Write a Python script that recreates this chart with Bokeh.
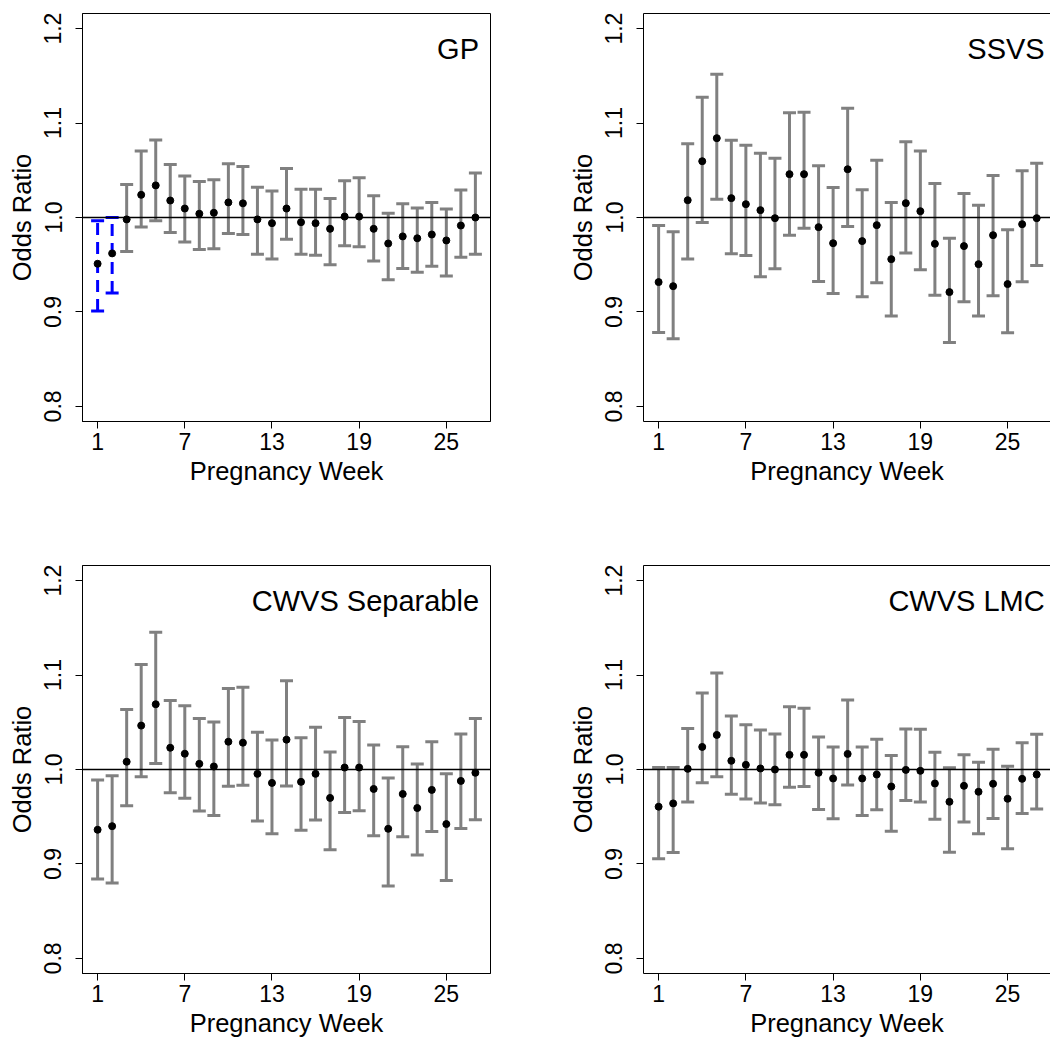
from bokeh.plotting import figure
from bokeh.layouts import column, row
from bokeh.models import (Whisker, TeeHead, ColumnDataSource, Span, FixedTicker,
                          LinearAxis, Range1d, PrintfTickFormatter, Label)
from bokeh.embed import file_html
from bokeh.resources import INLINE

weeks = list(range(1, 28))
x_ticks = [1, 7, 13, 19, 25]
y_ticks = [0.8, 0.9, 1.0, 1.1, 1.2]
panel_titles = ["GP", "SSVS", "CWVS Separable", "CWVS LMC"]

gp_est = [0.951, 0.962, 0.998, 1.024, 1.034, 1.018, 1.0095, 1.004, 1.005, 1.016, 1.015, 0.998, 0.994, 1.0095,
          0.995, 0.994, 0.988, 1.001, 1.001, 0.988, 0.9725, 0.980, 0.978, 0.982, 0.9757, 0.9915, 1.000]
gp_lower = [0.901, 0.920, 0.964, 0.990, 0.9965, 0.984, 0.974, 0.966, 0.967, 0.983, 0.982, 0.961, 0.956, 0.977,
            0.961, 0.960, 0.950, 0.970, 0.969, 0.954, 0.934, 0.946, 0.942, 0.9485, 0.938, 0.958, 0.961]
gp_upper = [0.9965, 1.000, 1.035, 1.0705, 1.082, 1.056, 1.044, 1.038, 1.040, 1.057, 1.054, 1.032, 1.028, 1.052,
            1.030, 1.030, 1.020, 1.039, 1.042, 1.023, 1.0046, 1.0145, 1.010, 1.016, 1.009, 1.029, 1.047]
gp_flag = [1, 1, 0, 0, 0, 0, 0, 0, 0, 0, 0, 0, 0, 0, 0, 0, 0, 0, 0, 0, 0, 0, 0, 0, 0, 0, 0]

ssvs_est = [0.9316, 0.9273, 1.0183, 1.0596, 1.084, 1.0205, 1.0141, 1.0078, 0.9993, 1.0459, 1.0459, 0.9898, 0.9728, 1.0511,
            0.975, 0.9919, 0.9559, 1.0152, 1.0067, 0.9721, 0.921, 0.9697, 0.9506, 0.9813, 0.9295, 0.9929, 0.9993]
ssvs_lower = [0.8783, 0.8716, 0.956, 0.9947, 1.0194, 0.9616, 0.9598, 0.9372, 0.9457, 0.9813, 0.9887, 0.9323, 0.9196, 0.9905,
              0.916, 0.9309, 0.8956, 0.9623, 0.9446, 0.9178, 0.8677, 0.9108, 0.8956, 0.9171, 0.878, 0.9319, 0.9492]
ssvs_upper = [0.9915, 0.9848, 1.078, 1.1273, 1.1517, 1.0818, 1.0765, 1.068, 1.0628, 1.1108, 1.1115, 1.0547, 1.0317, 1.1157,
              1.0293, 1.0607, 1.0159, 1.0801, 1.0705, 1.036, 0.9781, 1.0254, 1.013, 1.0444, 0.987, 1.0494, 1.0575]
ssvs_flag = [0] * 27

sep_est = [0.9362, 0.940, 1.0082, 1.0465, 1.0691, 1.023, 1.0167, 1.006, 1.0032, 1.0294, 1.0284, 0.9954, 0.9858, 1.0316,
           0.9869, 0.9954, 0.9699, 1.0021, 1.0021, 0.9794, 0.9372, 0.9741, 0.9592, 0.9784, 0.9422, 0.9879, 0.9965]
sep_lower = [0.884, 0.8798, 0.9617, 0.9922, 1.0064, 0.9755, 0.9695, 0.956, 0.9514, 0.9823, 0.9833, 0.9454, 0.9319, 0.9826,
             0.9358, 0.9465, 0.9149, 0.9546, 0.9564, 0.9298, 0.8766, 0.9287, 0.9096, 0.9344, 0.8826, 0.9376, 0.9468]
sep_upper = [0.989, 0.9933, 1.0635, 1.1113, 1.1454, 1.073, 1.0674, 1.0539, 1.0504, 1.0858, 1.0872, 1.0394, 1.0312, 1.094,
             1.0337, 1.0447, 1.0184, 1.055, 1.0507, 1.0259, 0.9911, 1.0241, 1.0057, 1.0294, 0.9954, 1.0376, 1.0539]
sep_flag = [0] * 27

lmc_est = [0.9606, 0.9641, 1.0007, 1.0239, 1.0366, 1.0092, 1.0049, 1.0011, 1.000, 1.0155, 1.0155, 0.9965, 0.9905, 1.0165,
           0.9905, 0.9947, 0.982, 0.9996, 0.9986, 0.9852, 0.9658, 0.9827, 0.9764, 0.9849, 0.969, 0.9901, 0.9947]
lmc_lower = [0.9056, 0.912, 0.9655, 0.9859, 0.9923, 0.9739, 0.9687, 0.9644, 0.9627, 0.9813, 0.982, 0.9577, 0.9479, 0.9835,
             0.9514, 0.9574, 0.9345, 0.9673, 0.9655, 0.9472, 0.9123, 0.9444, 0.932, 0.9482, 0.9162, 0.9535, 0.9581]
lmc_upper = [1.0021, 1.0021, 1.0433, 1.081, 1.1021, 1.0567, 1.0475, 1.0419, 1.0377, 1.0665, 1.0648, 1.0345, 1.0239, 1.0736,
             1.0239, 1.032, 1.0148, 1.043, 1.0426, 1.0183, 1.0018, 1.0155, 1.0077, 1.0215, 1.0035, 1.0282, 1.0373]
lmc_flag = [0] * 27

FONT = "Liberation Sans"
GRAY = "#808080"
BLUE = "#0000FF"


def make_panel(title, est, lo, hi, flag, right_side, top_row):
    fw = 407 if right_side else 408
    x_end = 27.95 if right_side else 28.04
    w = 489 if right_side else 561
    h = 552 if top_row else 488
    p = figure(width=w, height=h, x_range=Range1d(-0.04, x_end), y_range=Range1d(0.784, 1.216),
               output_backend="svg", toolbar_location=None,
               min_border_left=82, min_border_right=(0 if right_side else w - 82 - fw),
               min_border_top=13, min_border_bottom=(h - 13 - 408))
    p.xgrid.visible = False
    p.ygrid.visible = False
    p.background_fill_color = "white"
    p.border_fill_color = "white"

    xax = p.below[0]
    yax = p.left[0]

    sel_g = [i for i in range(len(weeks)) if flag[i] == 0]
    sel_b = [i for i in range(len(weeks)) if flag[i] == 1]
    for sel, col, dash in ((sel_g, GRAY, "solid"), (sel_b, BLUE, "12 7")):
        if not sel:
            continue
        src = ColumnDataSource(dict(x=[weeks[i] for i in sel], y=[est[i] for i in sel],
                                    lower=[lo[i] for i in sel], upper=[hi[i] for i in sel]))
        wk = Whisker(source=src, base="x", upper="upper", lower="lower", dimension="height",
                     line_color=col, line_width=3, line_dash=dash, level="underlay",
                     upper_head=TeeHead(size=13, line_color=col, line_width=3),
                     lower_head=TeeHead(size=13, line_color=col, line_width=3))
        p.add_layout(wk)
    p.add_layout(Span(location=1.0, dimension="width", line_color="black", line_width=1.5, level="underlay"))
    src_all = ColumnDataSource(dict(x=weeks, y=est))
    p.scatter("x", "y", source=src_all, size=7, color="black")

    p.add_layout(Label(x=(27.55 if right_side else 27.25), y=1.178, text=title, text_align="right",
                       text_baseline="alphabetic", text_font=FONT, text_font_size="29px", text_color="black"))

    for ax in (xax, yax):
        ax.axis_line_color = "black"
        ax.axis_line_width = 1
        ax.major_tick_line_color = "black"
        ax.major_tick_line_width = 1
        ax.major_tick_in = 0
        ax.major_tick_out = 7
        ax.minor_tick_line_color = None
        ax.major_label_text_font = FONT
        ax.major_label_text_font_size = "23px"
        ax.major_label_text_color = "black"
        ax.axis_label_text_font = FONT
        ax.axis_label_text_font_size = "25.5px"
        ax.axis_label_text_font_style = "normal"
        ax.axis_label_text_color = "black"
    xax.ticker = FixedTicker(ticks=x_ticks)
    xax.axis_label = "Pregnancy Week"
    xax.major_label_standoff = 4
    xax.axis_label_standoff = 4
    yax.ticker = FixedTicker(ticks=y_ticks)
    yax.formatter = PrintfTickFormatter(format="%.1f")
    yax.major_label_orientation = "vertical"
    yax.axis_label = "Odds Ratio"
    yax.major_label_standoff = 14
    yax.axis_label_standoff = 6

    if right_side:
        p.outline_line_color = None
        top_ax = LinearAxis(ticker=FixedTicker(ticks=[]), axis_line_color="black", axis_line_width=1,
                            major_tick_line_color=None, minor_tick_line_color=None,
                            major_label_text_font_size="0px")
        p.add_layout(top_ax, "above")
    else:
        p.outline_line_color = "black"
        p.outline_line_width = 1
        p.outline_line_alpha = 1.0
    return p


p1 = make_panel(panel_titles[0], gp_est, gp_lower, gp_upper, gp_flag, False, True)
p2 = make_panel(panel_titles[1], ssvs_est, ssvs_lower, ssvs_upper, ssvs_flag, True, True)
p3 = make_panel(panel_titles[2], sep_est, sep_lower, sep_upper, sep_flag, False, False)
p4 = make_panel(panel_titles[3], lmc_est, lmc_lower, lmc_upper, lmc_flag, True, False)

layout = column(row(p1, p2, spacing=0), row(p3, p4, spacing=0), spacing=0)
open("out.html", "w").write(file_html(layout, INLINE))
